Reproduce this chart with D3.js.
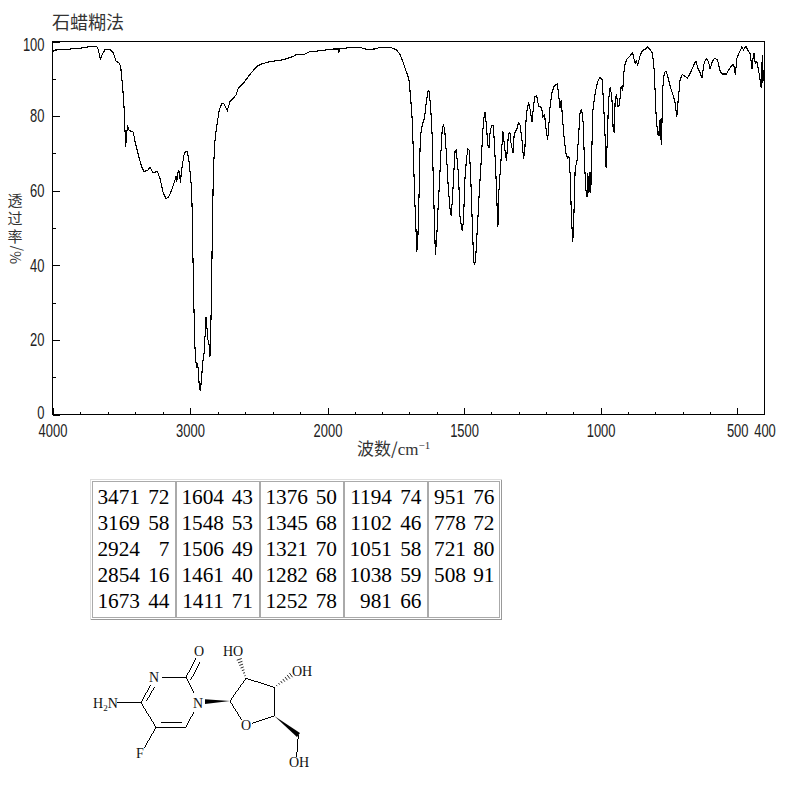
<!DOCTYPE html>
<html>
<head>
<meta charset="utf-8">
<script src="https://cdn.jsdelivr.net/npm/d3@7"></script>
<style>
  html, body { margin: 0; padding: 0; background: #fff; }
  svg { display: block; }
  .tick text { font-family: "Liberation Sans", sans-serif; font-size: 18px; fill: #222; }
  .cjk { font-family: "Noto Sans CJK SC", sans-serif; fill: #333; }
  .peak { font-family: "Liberation Serif", serif; font-size: 21.3px; fill: #000; }
  .atom { font-family: "Liberation Serif", serif; font-size: 14px; fill: #111; }
</style>
</head>
<body>
<div id="chart"></div>
<script>
var title = "石蜡糊法";
var yLabel = "透过率";
var xMajor = [4000, 3000, 2000, 1500, 1000, 500, 400];
var xMinor = [3800, 3600, 3400, 3200, 2800, 2600, 2400, 2200, 1900, 1800, 1700, 1600, 1400, 1300, 1200, 1100, 900, 800, 700, 600];
var yMajor = [0, 20, 40, 60, 80, 100];
var yMinor = [10, 30, 50, 70, 90];

var wavenumber = [
  4000, 3982, 3897, 3800, 3715, 3679, 3667, 3652, 3640, 3618, 3582, 3558, 3538, 3514, 3504, 3495, 3482, 3473, 3468, 3461,
  3453, 3441, 3412, 3400, 3376, 3352, 3335, 3310, 3291, 3267, 3238, 3218, 3194, 3175, 3158, 3133, 3109, 3102, 3097, 3085,
  3078, 3070, 3061, 3044, 3032, 3019, 3005, 2988, 2981, 2980, 2973, 2966, 2956, 2951, 2944, 2937, 2932, 2925, 2917, 2908,
  2898, 2888, 2884, 2879, 2871, 2859, 2855, 2850, 2842, 2838, 2835, 2830, 2818, 2806, 2787, 2770, 2753, 2729, 2709, 2685,
  2665, 2648, 2612, 2576, 2552, 2515, 2479, 2418, 2321, 2248, 2224, 2176, 2127, 2055, 1978, 1960, 1959, 1956, 1905, 1880,
  1856, 1825, 1807, 1771, 1746, 1734, 1724, 1716, 1707, 1701, 1695, 1689, 1685, 1680, 1675, 1673, 1669, 1664, 1661, 1657,
  1651, 1645, 1640, 1633, 1629, 1624, 1620, 1616, 1613, 1609, 1605, 1600, 1595, 1590, 1585, 1580, 1575, 1570, 1564, 1558,
  1551, 1547, 1542, 1537, 1533, 1529, 1524, 1520, 1515, 1507, 1502, 1497, 1491, 1486, 1481, 1476, 1472, 1465, 1462, 1458,
  1451, 1444, 1437, 1431, 1426, 1423, 1418, 1413, 1409, 1404, 1398, 1393, 1389, 1384, 1379, 1376, 1373, 1368, 1363, 1358,
  1353, 1348, 1345, 1341, 1337, 1332, 1328, 1321, 1317, 1312, 1307, 1301, 1295, 1288, 1282, 1277, 1273, 1268, 1263, 1258,
  1253, 1251, 1246, 1241, 1234, 1227, 1220, 1215, 1212, 1205, 1201, 1194, 1190, 1185, 1179, 1170, 1159, 1154, 1149, 1144,
  1140, 1133, 1127, 1121, 1116, 1111, 1107, 1102, 1098, 1093, 1087, 1081, 1075, 1069, 1064, 1059, 1054, 1050, 1047, 1043,
  1039, 1036, 1033, 1028, 1020, 1011, 1002, 994, 987, 982, 980, 976, 971, 965, 959, 954, 950, 947, 942, 937,
  931, 925, 919, 913, 904, 892, 883, 877, 873, 870, 864, 855, 847, 837, 828, 819, 810, 803, 798, 794,
  790, 787, 784, 782, 779, 777, 773, 767, 761, 754, 745, 735, 728, 721, 715, 709, 701, 690, 682, 672,
  660, 651, 644, 635, 629, 621, 613, 605, 599, 591, 583, 572, 562, 554, 540, 532, 523, 513, 507, 501,
  491, 483, 477, 468, 458, 452, 446, 443, 438, 434, 428, 422, 416, 412, 408, 406, 404
];
var transmittance = [
  97.3, 97.7, 97.9, 98.2, 98.7, 98.7, 97.8, 95.3, 96.4, 97.8, 97.9, 96.9, 94.8, 94.2, 93.3, 89.7, 84.3, 76.3, 71.6, 75.4,
  77.2, 76.1, 75.7, 73.2, 69.6, 66.5, 65.2, 65.4, 66.2, 64.8, 65.2, 63.3, 59.3, 58.0, 58.1, 60.2, 62.9, 63.8, 62.4, 65.4,
  65.1, 62.2, 65.6, 69.6, 70.5, 70.5, 67.4, 60.2, 49.5, 45.0, 31.6, 19.1, 13.7, 12.6, 13.7, 10.1, 7.4, 6.4, 9.2, 13.7,
  16.4, 22.6, 26.2, 24.4, 20.4, 18.2, 15.5, 20.8, 35.2, 49.5, 54.0, 65.6, 73.6, 77.2, 81.7, 83.3, 83.3, 81.5, 83.9, 84.8,
  85.7, 87.5, 88.8, 90.6, 91.7, 93.3, 94.0, 94.6, 95.1, 96.0, 96.6, 96.4, 97.3, 97.5, 98.0, 98.0, 96.9, 98.0, 98.5, 98.4,
  97.9, 98.0, 98.5, 98.5, 97.7, 96.4, 94.6, 92.8, 91.1, 89.3, 84.3, 78.1, 68.2, 56.6, 47.7, 43.6, 47.7, 61.1, 71.8, 76.3,
  78.1, 79.4, 82.6, 86.6, 86.9, 83.9, 79.4, 73.6, 63.8, 53.0, 42.8, 47.7, 55.7, 62.0, 70.0, 76.3, 77.8, 75.4, 69.1, 61.1,
  54.8, 53.3, 58.4, 65.6, 70.5, 70.8, 67.4, 63.8, 53.0, 49.2, 52.1, 62.9, 68.7, 71.1, 70.9, 64.7, 55.7, 41.4, 40.1, 41.4,
  50.4, 60.2, 68.2, 76.3, 80.3, 81.0, 77.2, 72.3, 71.4, 76.3, 77.4, 77.5, 72.7, 65.6, 55.7, 50.4, 59.3, 64.7, 70.0, 76.0,
  72.7, 69.6, 68.0, 71.8, 75.4, 75.6, 72.7, 70.2, 74.5, 76.0, 76.3, 78.3, 77.6, 73.6, 68.4, 71.8, 79.0, 82.4, 83.5, 81.7,
  79.4, 78.3, 82.4, 85.2, 85.4, 82.7, 82.6, 81.7, 79.7, 80.3, 77.2, 73.6, 77.2, 82.6, 86.1, 88.1, 88.6, 86.1, 82.1, 84.3,
  79.9, 73.6, 70.0, 68.7, 69.1, 63.8, 53.0, 46.2, 53.0, 66.5, 67.4, 74.5, 81.2, 81.7, 78.1, 67.4, 60.2, 58.2, 64.7, 59.3,
  65.1, 59.3, 69.1, 81.7, 86.1, 89.3, 90.4, 89.7, 79.9, 71.8, 66.0, 72.7, 84.3, 87.7, 85.2, 76.3, 75.8, 83.9, 86.0, 82.6,
  83.0, 87.9, 87.0, 93.3, 95.3, 96.2, 97.0, 95.1, 94.0, 94.9, 93.7, 96.4, 97.6, 97.9, 98.5, 97.9, 96.9, 91.5, 81.7, 77.6,
  75.0, 74.7, 79.0, 73.6, 79.2, 72.3, 87.0, 91.5, 92.1, 90.6, 87.9, 85.7, 83.9, 79.9, 85.2, 89.7, 91.2, 90.6, 90.2, 91.5,
  93.5, 94.8, 92.8, 91.5, 90.2, 94.2, 95.5, 94.6, 92.6, 94.6, 95.5, 95.1, 91.9, 91.3, 91.3, 92.2, 93.3, 93.9, 91.1, 95.5,
  97.3, 98.5, 97.8, 98.7, 97.3, 96.7, 92.6, 95.1, 96.9, 94.2, 94.6, 92.4, 89.7, 87.5, 96.4, 88.8, 92.4
];

// peak table, read column by column
var peakWave = [
  ["3471", "3169", "2924", "2854", "1673"],
  ["1604", "1548", "1506", "1461", "1411"],
  ["1376", "1345", "1321", "1282", "1252"],
  ["1194", "1102", "1051", "1038", "981"],
  ["951", "778", "721", "508"]
];
var peakT = [
  ["72", "58", "7", "16", "44"],
  ["43", "53", "49", "40", "71"],
  ["50", "68", "70", "68", "78"],
  ["74", "46", "58", "59", "66"],
  ["76", "72", "80", "91"]
];

var width = 794, height = 794;
var svg = d3.select("#chart").append("svg").attr("width", width).attr("height", height);

// the wavenumber axis changes scale at 2000
var xScale = d3.scaleLinear().domain([4000, 2000, 400]).range([52.5, 327.5, 764.5]);
var yScale = d3.scaleLinear().domain([0, 100]).range([414.5, 41.5]);

svg.append("text").attr("class", "cjk").attr("x", 52).attr("y", 29)
  .style("font-size", "18px").text(title);

svg.append("rect").attr("x", 52.5).attr("y", 41.5).attr("width", 712).attr("height", 373)
  .attr("fill", "none").attr("stroke", "#000").attr("shape-rendering", "crispEdges");

var xAxis = d3.axisBottom(xScale).tickValues(xMajor).tickFormat(d3.format("d")).tickSizeInner(-7).tickSizeOuter(0);
var xAxisMinor = d3.axisBottom(xScale).tickValues(xMinor).tickFormat("").tickSizeInner(-3).tickSizeOuter(0);
var yAxis = d3.axisLeft(yScale).tickValues(yMajor).tickSizeInner(-7).tickSizeOuter(0);
var yAxisMinor = d3.axisLeft(yScale).tickValues(yMinor).tickFormat("").tickSizeInner(-3).tickSizeOuter(0);

function drawAxis(axis, transform) {
  var g = svg.append("g").attr("transform", transform).call(axis);
  g.select(".domain").remove();
  g.selectAll("line").attr("stroke", "#000").attr("shape-rendering", "crispEdges");
  return g;
}
var narrow = 0.72; // tick labels are a condensed face in the original
var gx = drawAxis(xAxis, "translate(0,414.5)");
drawAxis(xAxisMinor, "translate(0,414.5)");
var gy = drawAxis(yAxis, "translate(52.5,0)");
drawAxis(yAxisMinor, "translate(52.5,0)");
gx.selectAll("text").attr("y", 10).attr("transform", "scale(" + narrow + ",1)");
gy.selectAll("text").attr("x", -8 / narrow).attr("transform", "scale(" + narrow + ",1)");
gx.selectAll(".tick").filter(function(d) { return d == 400; }).select("line").remove();
gy.selectAll(".tick").filter(function(d) { return d == 100; }).select("text").attr("dy", "0.52em");
gy.selectAll(".tick").filter(function(d) { return d == 0; }).select("text").attr("dy", "0.22em");

var line = d3.line()
  .x(function(d, i) { return xScale(wavenumber[i]); })
  .y(function(d) { return yScale(d); });

svg.append("path").datum(transmittance)
  .attr("d", line)
  .attr("fill", "none").attr("stroke", "#000").attr("stroke-width", 1.1)
  .attr("shape-rendering", "crispEdges");

// axis titles
svg.append("text").attr("class", "cjk").attr("x", 15).attr("y", 193)
  .style("writing-mode", "vertical-rl").style("text-orientation", "upright")
  .style("font-size", "15px").style("letter-spacing", "3px")
  .text(yLabel);
svg.append("text").attr("class", "cjk").attr("transform", "translate(21,264) rotate(-90)")
  .style("font-size", "14px").text("%/");

var xTitle = svg.append("text").attr("class", "cjk").attr("x", 357).attr("y", 455).style("font-size", "17px");
xTitle.append("tspan").text("波数/");
xTitle.append("tspan").style("font-family", "'Liberation Serif', serif").style("font-size", "17px").text("cm");
xTitle.append("tspan").attr("dy", -6).style("font-family", "'Liberation Serif', serif").style("font-size", "11px").text("−1");

// peak table
var cellX = [92, 176, 260, 344, 428];
var cellW = [83, 83, 83, 83, 71];
var waveEnd = [140, 224, 308, 392, 466];
var tEnd = [169.5, 253, 337, 421.5, 494.5];
var rowY = [504, 530, 556, 582, 608];

svg.append("path").attr("d", "M90.5 619.5V479.5H501.5").attr("fill", "none").attr("stroke", "#ddd").attr("shape-rendering", "crispEdges");
svg.append("path").attr("d", "M90.5 619.5H501.5V479.5").attr("fill", "none").attr("stroke", "#999").attr("shape-rendering", "crispEdges");

peakWave.forEach(function(col, c) {
  svg.append("rect").attr("x", cellX[c] + 0.5).attr("y", 481.5).attr("width", cellW[c]).attr("height", 136)
    .attr("fill", "none").attr("stroke", "#aaa").attr("shape-rendering", "crispEdges");
  col.forEach(function(w, r) {
    svg.append("text").attr("class", "peak").attr("x", waveEnd[c]).attr("y", rowY[r]).attr("text-anchor", "end").text(w);
    svg.append("text").attr("class", "peak").attr("x", tEnd[c]).attr("y", rowY[r]).attr("text-anchor", "end").text(peakT[c][r]);
  });
});

// structure of the compound
var mol = svg.append("g").attr("transform", "translate(80,630) scale(0.3333)")
  .attr("stroke", "#000").attr("stroke-width", 3).attr("fill", "none");
var bonds = [
  [110, 218, 183, 218], [183, 218, 212, 165], [200, 212, 223, 172], [245, 142, 318, 142],
  [318, 142, 348, 85], [332, 150, 360, 97], [318, 142, 342, 190], [342, 245, 318, 292],
  [318, 292, 228, 292], [305, 279, 243, 279], [183, 218, 228, 292], [228, 292, 192, 355],
  [450, 213, 498, 145], [498, 145, 583, 172], [583, 172, 583, 258], [583, 258, 515, 280],
  [485, 270, 450, 213], [655, 315, 650, 380]
];
bonds.forEach(function(b) {
  mol.append("line").attr("x1", b[0]).attr("y1", b[1]).attr("x2", b[2]).attr("y2", b[3])
    .attr("shape-rendering", "crispEdges");
});
mol.append("path").attr("d", "M450 213L375 208L375 222Z").attr("fill", "#000").attr("stroke", "none");
mol.append("path").attr("d", "M583 258L660 309L651 321Z").attr("fill", "#000").attr("stroke", "none");
// hashed bonds
[[498, 145, 475, 80], [583, 172, 640, 130]].forEach(function(h) {
  d3.range(1, 8).forEach(function(i) {
    var t = i / 8, px = h[0] + (h[2] - h[0]) * t, py = h[1] + (h[3] - h[1]) * t;
    var len = Math.hypot(h[2] - h[0], h[3] - h[1]);
    var nx = -(h[3] - h[1]) / len, ny = (h[2] - h[0]) / len, w = 1 + t * 8;
    mol.append("line").attr("x1", px - nx * w).attr("y1", py - ny * w).attr("x2", px + nx * w).attr("y2", py + ny * w).attr("stroke-width", 2.5);
  });
});

var atoms = [
  ["N", 154, 682], ["O", 199, 656], ["N", 198, 708], ["O", 246, 730], ["F", 140, 758],
  ["HO", 233, 656], ["OH", 302, 676], ["OH", 299, 767]
];
atoms.forEach(function(a) {
  svg.append("text").attr("class", "atom").attr("x", a[1]).attr("y", a[2]).attr("text-anchor", "middle").text(a[0]);
});
var h2n = svg.append("text").attr("class", "atom").attr("x", 93).attr("y", 708);
h2n.append("tspan").text("H");
h2n.append("tspan").attr("dy", 3).style("font-size", "9px").text("2");
h2n.append("tspan").attr("dy", -3).text("N");
</script>
</body>
</html>
